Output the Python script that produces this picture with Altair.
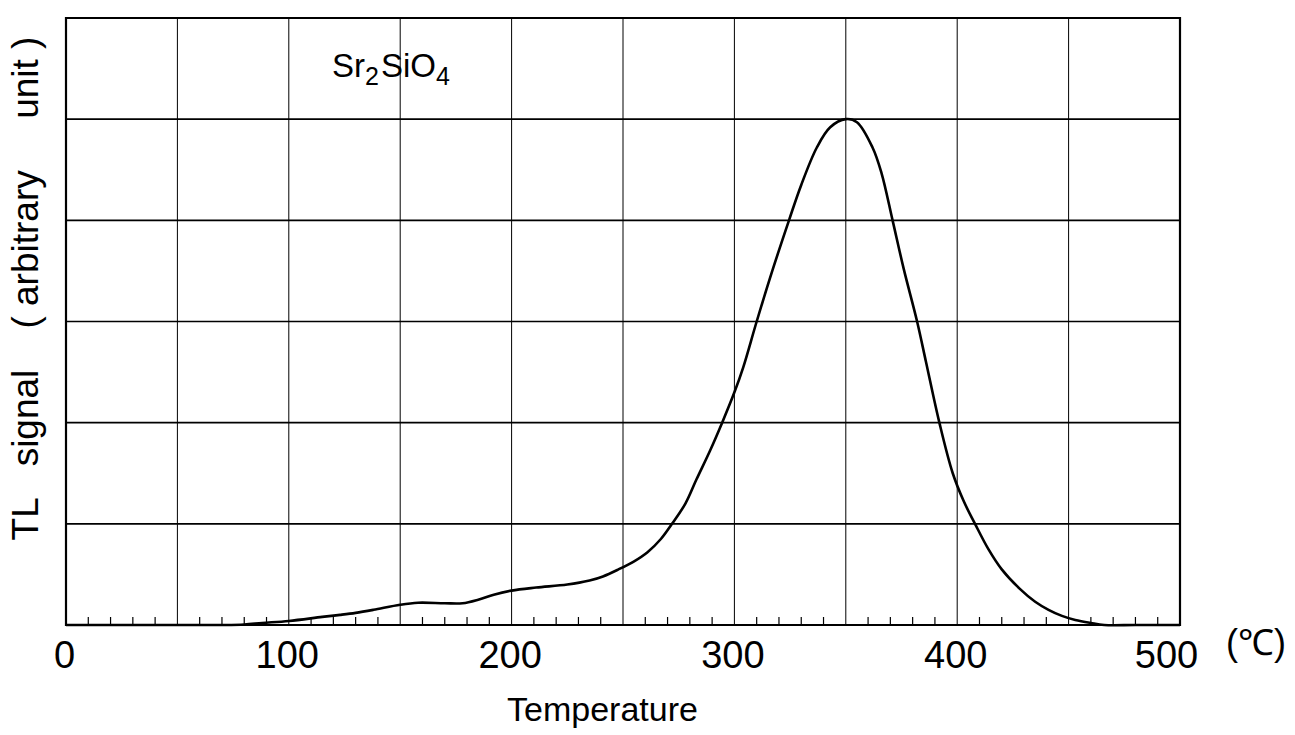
import altair as alt
import pandas as pd

# ---- data ----
temps = [0, 40, 70, 80, 88, 100, 115, 123, 130, 138, 150, 158, 170, 178, 185, 192, 200,
         211, 225, 235, 241, 248, 255, 261, 267, 272, 278, 283, 289, 294.5, 300, 304,
         310, 317, 324.5, 330, 337, 343, 350, 355, 362, 366, 371, 376, 382, 386, 392,
         398, 403, 408, 414, 420, 428, 435, 441, 447, 453, 460, 466, 480, 500]
signal = [0, 0, 0, 0.005, 0.02, 0.04, 0.08, 0.10, 0.12, 0.15, 0.20, 0.22, 0.215, 0.215,
          0.25, 0.30, 0.34, 0.37, 0.40, 0.44, 0.48, 0.55, 0.63, 0.72, 0.85, 1.0, 1.2,
          1.44, 1.72, 2.0, 2.3, 2.55, 3.0, 3.5, 4.0, 4.35, 4.72, 4.92, 5.0, 4.97, 4.72,
          4.47, 4.0, 3.52, 3.0, 2.6, 2.0, 1.5, 1.22, 1.0, 0.75, 0.55, 0.36, 0.23, 0.15,
          0.09, 0.05, 0.02, 0.0, 0.0, 0.0]

x_label_values = [0, 100, 200, 300, 400, 500]
x_grid_values = [0, 50, 100, 150, 200, 250, 300, 350, 400, 450, 500]
y_grid_values = [1, 2, 3, 4, 5]
minor_ticks = [t for t in range(10, 500, 10) if t % 50 != 0]

formula_parts = ["Sr", "2", "SiO", "4"]
unit_label = ["(\u2103)"]
x_title = "Temperature"
nb = "\u00a0"
y_title = "TL" + nb * 3 + "signal" + nb * 4 + "(" + nb + "arbitrary" + nb * 5 + "unit" + nb + ")"

W, H = 1114, 607
FONT = "Liberation Sans"

xs = alt.Scale(domain=[0, 500], nice=False, zero=False)
ys = alt.Scale(domain=[0, 6], nice=False, zero=False)

x_axis = alt.Axis(
    values=x_label_values, grid=False, ticks=False, domain=False,
    labelFont=FONT, labelFontSize=38, labelColor="black", labelPadding=12,
    labelFlush=False,
    labelOffset={"condition": {"test": "datum.value == 500", "value": -14}, "value": -2},
    title=x_title, titleFont=FONT, titleFontSize=34, titleFontWeight="normal",
    titleColor="black", titleX=536, titleY=95, titleBaseline="alphabetic")
y_axis = alt.Axis(
    values=[0], grid=False, ticks=False, labels=False, domain=False,
    title=y_title, titleFont=FONT, titleFontSize=37, titleFontWeight="normal",
    titleColor="black", titleX=-29, titleY=270, titleAlign="center",
    titleBaseline="alphabetic", titleAngle=270)

df = pd.DataFrame({"T": temps, "S": signal})

curve = alt.Chart(df).mark_line(
    color="black", strokeWidth=2.6, interpolate="catmull-rom"
).encode(
    x=alt.X("T:Q", scale=xs, axis=x_axis),
    y=alt.Y("S:Q", scale=ys, axis=y_axis),
)

vgrid = alt.Chart(pd.DataFrame({"T": x_grid_values})).mark_rule(
    color="black", strokeWidth=1
).encode(x=alt.X("T:Q", scale=xs, axis=x_axis))

hgrid = alt.Chart(pd.DataFrame({"S": y_grid_values})).mark_rule(
    color="black", strokeWidth=1.6
).encode(y=alt.Y("S:Q", scale=ys, axis=y_axis))

minor = alt.Chart(pd.DataFrame({"T": minor_ticks})).mark_rule(
    color="black", strokeWidth=1.2
).encode(
    x=alt.X("T:Q", scale=xs, axis=x_axis),
    y=alt.value(H),
    y2=alt.value(H - 8),
)


def label(text, px, py, size):
    return alt.Chart(pd.DataFrame({"t": [text]})).mark_text(
        font=FONT, fontSize=size, color="black", align="left", baseline="alphabetic"
    ).encode(text="t:N", x=alt.value(px), y=alt.value(py))


formula = [
    label(formula_parts[0], 332 - 66, 77 - 18, 33),
    label(formula_parts[1], 365 - 66, 85 - 18, 25),
    label(formula_parts[2], 381 - 66, 77 - 18, 33),
    label(formula_parts[3], 436 - 66, 85 - 18, 25),
]

unit_text = alt.Chart(pd.DataFrame({"t": unit_label})).mark_text(
    font=FONT, fontSize=36, color="black", align="center", baseline="alphabetic"
).encode(text="t:N", x=alt.value(1190), y=alt.value(637))

chart = alt.layer(curve, vgrid, hgrid, minor, *formula, unit_text).properties(
    width=W, height=H,
    autosize=alt.AutoSizeParams(type="none"),
    padding={"left": 66, "top": 18, "right": 1295 - 66 - W, "bottom": 735 - 18 - H},
    background="white",
).configure_view(stroke="black", strokeWidth=2.2)

chart.save("out.html", embed_options={"renderer": "svg", "actions": False})
